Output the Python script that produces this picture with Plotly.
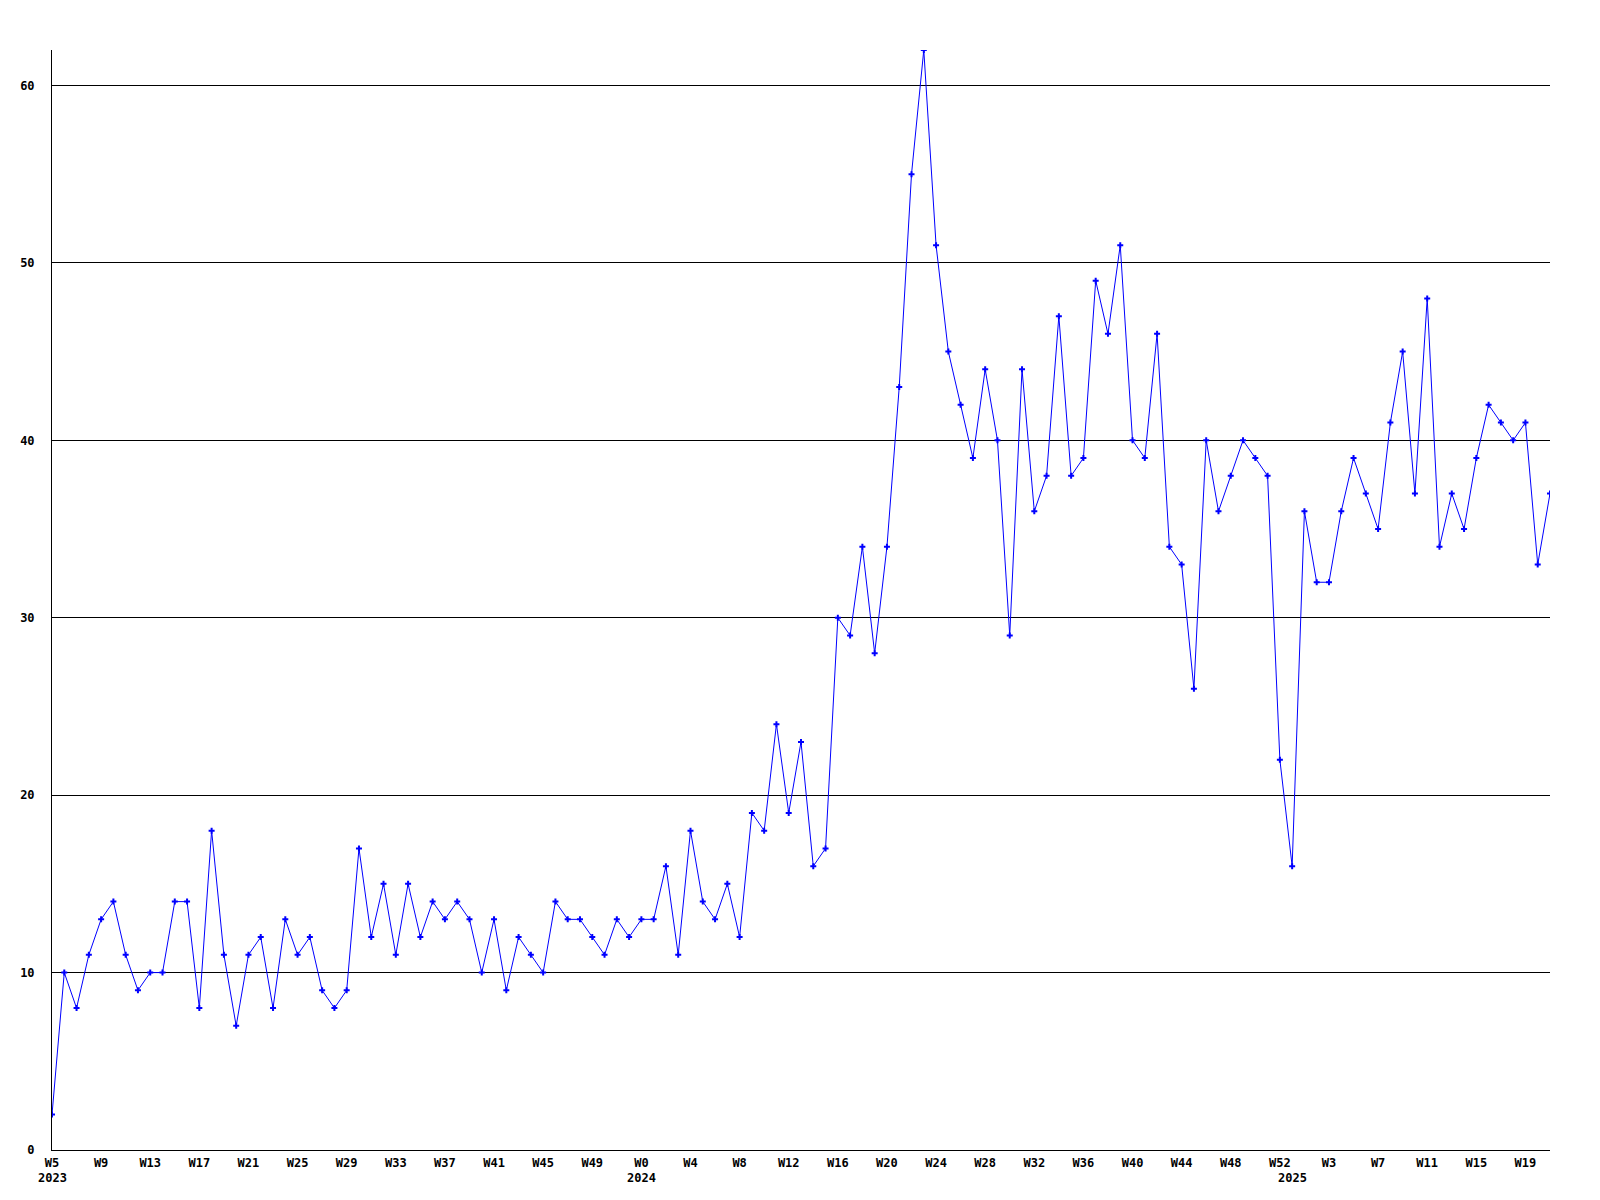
import plotly.graph_objects as go

# ---- data ----
weeks_2023 = list(range(5, 53))   # W5..W52
weeks_2024 = list(range(0, 53))   # W0..W52
weeks_2025 = list(range(0, 22))   # W0..W21

values = [
    2, 10, 8, 11, 13, 14, 11, 9, 10, 10,
    14, 14, 8, 18, 11, 7, 11, 12, 8, 13,
    11, 12, 9, 8, 9, 17, 12, 15, 11, 15,
    12, 14, 13, 14, 13, 10, 13, 9, 12, 11,
    10, 14, 13, 13, 12, 11, 13, 12, 13, 13,
    16, 11, 18, 14, 13, 15, 12, 19, 18, 24,
    19, 23, 16, 17, 30, 29, 34, 28, 34, 43,
    55, 62, 51, 45, 42, 39, 44, 40, 29, 44,
    36, 38, 47, 38, 39, 49, 46, 51, 40, 39,
    46, 34, 33, 26, 40, 36, 38, 40, 39, 38,
    22, 16, 36, 32, 32, 36, 39, 37, 35, 41,
    45, 37, 48, 34, 37, 35, 39, 42, 41, 40,
    41, 33, 37,
]

y_ticks = [0, 10, 20, 30, 40, 50, 60]

# ---- categories ----
cats = ([f"2023 W{w}" for w in weeks_2023]
        + [f"2024 W{w}" for w in weeks_2024]
        + [f"2025 W{w}" for w in weeks_2025])
week_only = ([f"W{w}" for w in weeks_2023]
             + [f"W{w}" for w in weeks_2024]
             + [f"W{w}" for w in weeks_2025])

tick_idx = list(range(0, len(cats), 4))
tickvals = [cats[i] for i in tick_idx]
ticktext = [week_only[i] for i in tick_idx]

year_starts = [("2023", cats[0]),
               ("2024", "2024 W0"),
               ("2025", "2025 W0")]

FONT = "DejaVu Sans Mono"

fig = go.Figure()
fig.add_trace(go.Scatter(
    x=cats, y=values, mode="lines+markers",
    line=dict(color="#0000FF", width=1),
    marker=dict(symbol="cross", size=5, color="#0000FF", line=dict(width=0)),
    showlegend=False,
))

for txt, cat in year_starts:
    fig.add_annotation(
        x=cat, xref="x", y=-0.017, yref="paper",
        text=txt, showarrow=False, yanchor="top", xanchor="center",
        font=dict(family=FONT, size=12, color="black", weight="bold"),
    )

fig.update_layout(
    width=1584, height=1184,
    margin=dict(l=42, r=42, t=42, b=42),
    paper_bgcolor="white", plot_bgcolor="white",
    font=dict(family=FONT, size=12, color="black"),
)
fig.update_xaxes(
    type="category", range=[0, len(cats) - 1],
    tickmode="array", tickvals=tickvals, ticktext=ticktext,
    showgrid=False, zeroline=False,
    showline=True, linecolor="black", linewidth=1,
    ticks="", ticklabelstandoff=2,
    tickfont=dict(family=FONT, size=12, color="black", weight="bold"),
)
fig.update_yaxes(
    range=[0, 62], tickmode="array", tickvals=y_ticks,
    showgrid=True, gridcolor="black", gridwidth=1,
    zeroline=False, showline=True, linecolor="black", linewidth=1,
    ticks="", ticklabelstandoff=14,
    tickfont=dict(family=FONT, size=12, color="black", weight="bold"),
)

fig.write_html("out.html")
